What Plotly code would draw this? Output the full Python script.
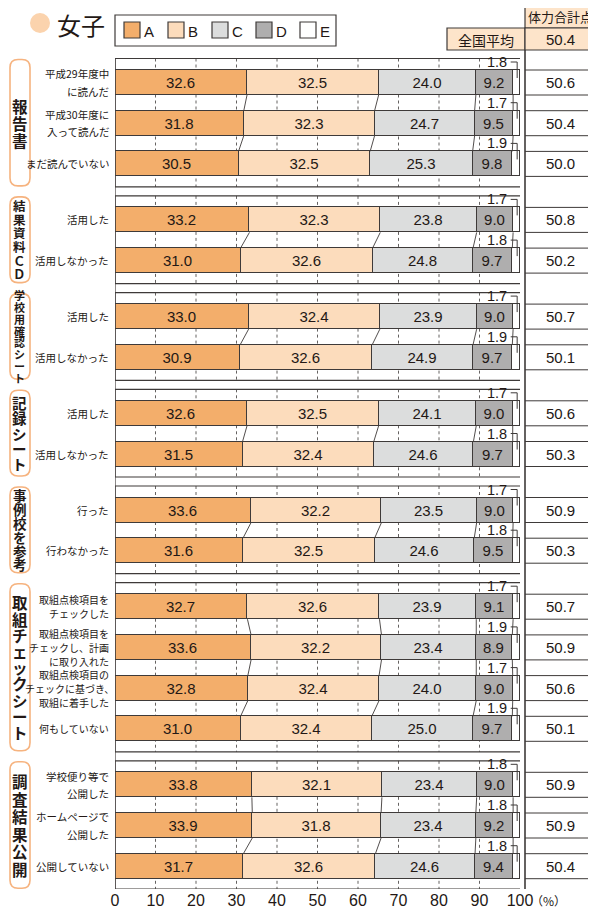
import plotly.graph_objects as go

# ---------------- data ----------------
groups = ["報告書", "結果資料ＣＤ", "学校用確認シート", "記録シート", "事例校を参考", "取組チェックシート", "調査結果公開"]
group_sizes = [3, 2, 2, 2, 2, 4, 3]
row_labels = [
    ["平成29年度中", "に読んだ"],
    ["平成30年度に", "入って読んだ"],
    ["まだ読んでいない"],
    ["活用した"], ["活用しなかった"],
    ["活用した"], ["活用しなかった"],
    ["活用した"], ["活用しなかった"],
    ["行った"], ["行わなかった"],
    ["取組点検項目を", "チェックした"],
    ["取組点検項目を", "チェックし、計画", "に取り入れた"],
    ["取組点検項目の", "チェックに基づき、", "取組に着手した"],
    ["何もしていない"],
    ["学校便り等で", "公開した"],
    ["ホームページで", "公開した"],
    ["公開していない"],
]
A = [32.6, 31.8, 30.5, 33.2, 31.0, 33.0, 30.9, 32.6, 31.5, 33.6, 31.6, 32.7, 33.6, 32.8, 31.0, 33.8, 33.9, 31.7]
B = [32.5, 32.3, 32.5, 32.3, 32.6, 32.4, 32.6, 32.5, 32.4, 32.2, 32.5, 32.6, 32.2, 32.4, 32.4, 32.1, 31.8, 32.6]
C = [24.0, 24.7, 25.3, 23.8, 24.8, 23.9, 24.9, 24.1, 24.6, 23.5, 24.6, 23.9, 23.4, 24.0, 25.0, 23.4, 23.4, 24.6]
D = [9.2, 9.5, 9.8, 9.0, 9.7, 9.0, 9.7, 9.0, 9.7, 9.0, 9.5, 9.1, 8.9, 9.0, 9.7, 9.0, 9.2, 9.4]
E = [1.8, 1.7, 1.9, 1.7, 1.8, 1.7, 1.9, 1.7, 1.8, 1.7, 1.8, 1.7, 1.9, 1.7, 1.9, 1.8, 1.8, 1.8]
scores = [50.6, 50.4, 50.0, 50.8, 50.2, 50.7, 50.1, 50.6, 50.3, 50.9, 50.3, 50.7, 50.9, 50.6, 50.1, 50.9, 50.9, 50.4]
national_avg = 50.4
series_names = ["A", "B", "C", "D", "E"]
x_ticks = [0, 10, 20, 30, 40, 50, 60, 70, 80, 90, 100]

# ---------------- style / layout constants ----------------
OFF = 8                      # page body margin of the browser
W, H = 596 - OFF, 912 - OFF  # figure size so that it fills the window
X0PX, X100PX = 115, 520      # window pixels of 0 % and 100 %
PLOT_BOTTOM = 889
FIRST = 82.5
ROW_STEP = 40.7
GROUP_STEP = 56.0
BAR_H = 25
LINE = "#3e3a39"
TXT = "#231815"
COLORS = ["#f3ae6b", "#fcdcbc", "#dcdddd", "#afaeae", "#ffffff"]
ORANGE_BORDER = "#f6b37f"
PEACH = "#fde4ca"
JP = "Noto Sans CJK JP"
NUM = "Liberation Sans, Arial"

def pxx(p):
    return (p - OFF) / W

def pxy(p):
    return 1 - (p - OFF) / H

def ann(x, y, text, size, family=JP, xanchor="center", yanchor="middle", **kw):
    f = dict(family=family, size=size, color=TXT)
    f.update(kw)
    return dict(xref="paper", yref="paper", x=pxx(x), y=pxy(y), text=text, showarrow=False,
                xanchor=xanchor, yanchor=yanchor, font=f)

# row centres (window-pixel y units)
centers = []
group_rows = []
y = FIRST
idx = 0
for gi, n in enumerate(group_sizes):
    if gi > 0:
        y += GROUP_STEP
    rows = []
    for r in range(n):
        if r > 0:
            y += ROW_STEP
        centers.append(y)
        rows.append(idx)
        idx += 1
    group_rows.append(rows)

fig = go.Figure()
vals_all = [A, B, C, D, E]
for k, (name, vals) in enumerate(zip(series_names, vals_all)):
    show_txt = name != "E"
    fig.add_trace(go.Bar(
        y=centers, x=vals, orientation="h", width=BAR_H, name=name,
        marker=dict(color=COLORS[k], line=dict(color=LINE, width=1)),
        text=[f"{v:.1f}" for v in vals] if show_txt else None,
        textposition="inside" if show_txt else "none",
        insidetextanchor="middle", textangle=0,
        textfont=dict(family=NUM, size=15, color=TXT),
        showlegend=False, hoverinfo="skip", cliponaxis=False,
    ))

shapes = []
annotations = []

# cumulative boundaries
cums = []
for i in range(len(A)):
    c = 0
    row = []
    for vals in vals_all[:4]:
        c += vals[i]
        row.append(c)
    cums.append(row)

sizes = [15.5, 12.5, 11, 14.5, 13.5, 15.5, 15.5]
steps = [17, 13.6, 11.8, 15.2, 13.8, 16.2, 17.6]
for gi, rows in enumerate(group_rows):
    top = centers[rows[0]] - BAR_H / 2 - 11.5
    bot = centers[rows[-1]] + BAR_H / 2 + 10.5
    for g in range(10, 100, 10):
        shapes.append(dict(type="line", xref="x", yref="y", x0=g, x1=g, y0=top, y1=bot,
                           line=dict(color=LINE, width=0.8, dash="3px,3px"), layer="below"))
    shapes.append(dict(type="rect", xref="x", yref="y", x0=0, x1=100.6, y0=top, y1=bot,
                       line=dict(color=LINE, width=1.2), layer="above"))
    for a, b in zip(rows[:-1], rows[1:]):
        for k in range(4):
            shapes.append(dict(type="line", xref="x", yref="y",
                               x0=cums[a][k], y0=centers[a] + BAR_H / 2,
                               x1=cums[b][k], y1=centers[b] - BAR_H / 2,
                               line=dict(color=LINE, width=0.9), layer="above"))
    # group label rounded box
    bx0, bx1 = pxx(10), pxx(30)
    by0, by1 = pxy(top + 1), pxy(bot - 1)
    rx, ry = 8 / W, 8 / H
    path = (f"M {bx0+rx},{by0} L {bx1-rx},{by0} Q {bx1},{by0} {bx1},{by0-ry} "
            f"L {bx1},{by1+ry} Q {bx1},{by1} {bx1-rx},{by1} L {bx0+rx},{by1} "
            f"Q {bx0},{by1} {bx0},{by1+ry} L {bx0},{by0-ry} Q {bx0},{by0} {bx0+rx},{by0} Z")
    shapes.append(dict(type="path", xref="paper", yref="paper", path=path,
                       line=dict(color=ORANGE_BORDER, width=1.6), fillcolor="white"))
    chars = list(groups[gi])
    mid = (top + bot) / 2
    n = len(chars)
    for ci, ch in enumerate(chars):
        cy = mid + (ci - (n - 1) / 2) * steps[gi]
        annotations.append(ann(20, cy, ch, sizes[gi], weight="bold"))

# continuous left axis line
shapes.append(dict(type="line", xref="x", yref="y", x0=0, x1=0,
                   y0=centers[0] - BAR_H / 2 - 11.5, y1=PLOT_BOTTOM,
                   line=dict(color=LINE, width=1.2), layer="above"))

# E labels with bracket
for i, c in enumerate(centers):
    btop = c - BAR_H / 2
    annotations.append(dict(xref="x", yref="y", x=97.4, y=btop - 8, text=f"{E[i]:.1f}",
                            showarrow=False, xanchor="right", yanchor="middle",
                            font=dict(family=NUM, size=14.5, color=TXT)))
    shapes.append(dict(type="path", xref="x", yref="y",
                       path=f"M 97.7,{btop-8} L 99.3,{btop-8} L 99.3,{btop+8}",
                       line=dict(color=LINE, width=1), layer="above"))

# row labels
for i, lines in enumerate(row_labels):
    c = centers[i]
    n = len(lines)
    in_g6 = i in group_rows[5]
    step = 14 if in_g6 else 17.5
    size = 10 if in_g6 else 10.5
    for li, t in enumerate(lines):
        ly = c + (li - (n - 1) / 2) * step
        xr = 116 if t.endswith("、") else 111
        annotations.append(ann(xr, ly, t, size, xanchor="right"))

# right table
TL, TR = 525, 596
shapes.append(dict(type="rect", xref="paper", yref="paper", x0=pxx(TL), x1=pxx(595),
                   y0=pxy(3), y1=pxy(28), fillcolor=PEACH, line=dict(color=LINE, width=1.2)))
shapes.append(dict(type="rect", xref="paper", yref="paper", x0=pxx(447), x1=pxx(TL),
                   y0=pxy(28), y1=pxy(50), fillcolor=PEACH, line=dict(color=LINE, width=1.2)))
shapes.append(dict(type="rect", xref="paper", yref="paper", x0=pxx(TL), x1=pxx(595),
                   y0=pxy(28), y1=pxy(50), fillcolor=PEACH, line=dict(color=LINE, width=1.2)))
shapes.append(dict(type="line", xref="paper", yref="paper", x0=pxx(TL), x1=pxx(TL),
                   y0=pxy(50), y1=pxy(PLOT_BOTTOM), line=dict(color=LINE, width=1.6)))
annotations.append(ann(560, 16, "体力合計点", 13))
annotations.append(ann(486, 39.5, "全国平均", 14))
annotations.append(ann(560, 39.5, f"{national_avg:.1f}", 15, family=NUM))
for i, c in enumerate(centers):
    for yy in (c - BAR_H / 2, c + BAR_H / 2):
        shapes.append(dict(type="line", xref="paper", yref="paper", x0=pxx(TL), x1=pxx(TR),
                           y0=pxy(yy), y1=pxy(yy), line=dict(color=LINE, width=1)))
    annotations.append(ann(560, c, f"{scores[i]:.1f}", 15, family=NUM))

# title
shapes.append(dict(type="circle", xref="paper", yref="paper", x0=pxx(30), x1=pxx(50),
                   y0=pxy(13), y1=pxy(33), fillcolor="#fbd3ad", line=dict(width=0)))
annotations.append(ann(55, 24, "女子", 24, xanchor="left"))

# legend
shapes.append(dict(type="rect", xref="paper", yref="paper", x0=pxx(115), x1=pxx(336),
                   y0=pxy(15), y1=pxy(46), line=dict(color=LINE, width=1.2)))
for k, name in enumerate(series_names):
    lx = 124 + 44 * k
    shapes.append(dict(type="rect", xref="paper", yref="paper", x0=pxx(lx), x1=pxx(lx + 16),
                       y0=pxy(22), y1=pxy(38), fillcolor=COLORS[k], line=dict(color=LINE, width=1.2)))
    annotations.append(ann(lx + 18, 31, name, 15, family=NUM, xanchor="left"))

annotations.append(ann(529, 900, "（%）", 12, xanchor="left"))

fig.update_layout(
    width=W, height=H, margin=dict(l=0, r=0, t=0, b=0, autoexpand=False),
    paper_bgcolor="white", plot_bgcolor="white",
    barmode="stack", bargap=0,
    shapes=shapes, annotations=annotations,
    uniformtext=dict(minsize=15, mode="show"),
    xaxis=dict(domain=[pxx(X0PX), pxx(X100PX)], range=[0, 100], tickvals=x_ticks,
               ticktext=[str(t) for t in x_ticks], showgrid=False, zeroline=False,
               showline=False, ticks="", tickfont=dict(family=NUM, size=16, color=TXT),
               automargin=False, fixedrange=True),
    yaxis=dict(domain=[pxy(PLOT_BOTTOM), pxy(OFF)], range=[PLOT_BOTTOM, OFF], visible=False,
               automargin=False, fixedrange=True),
    showlegend=False,
)
fig.write_html("out.html")
